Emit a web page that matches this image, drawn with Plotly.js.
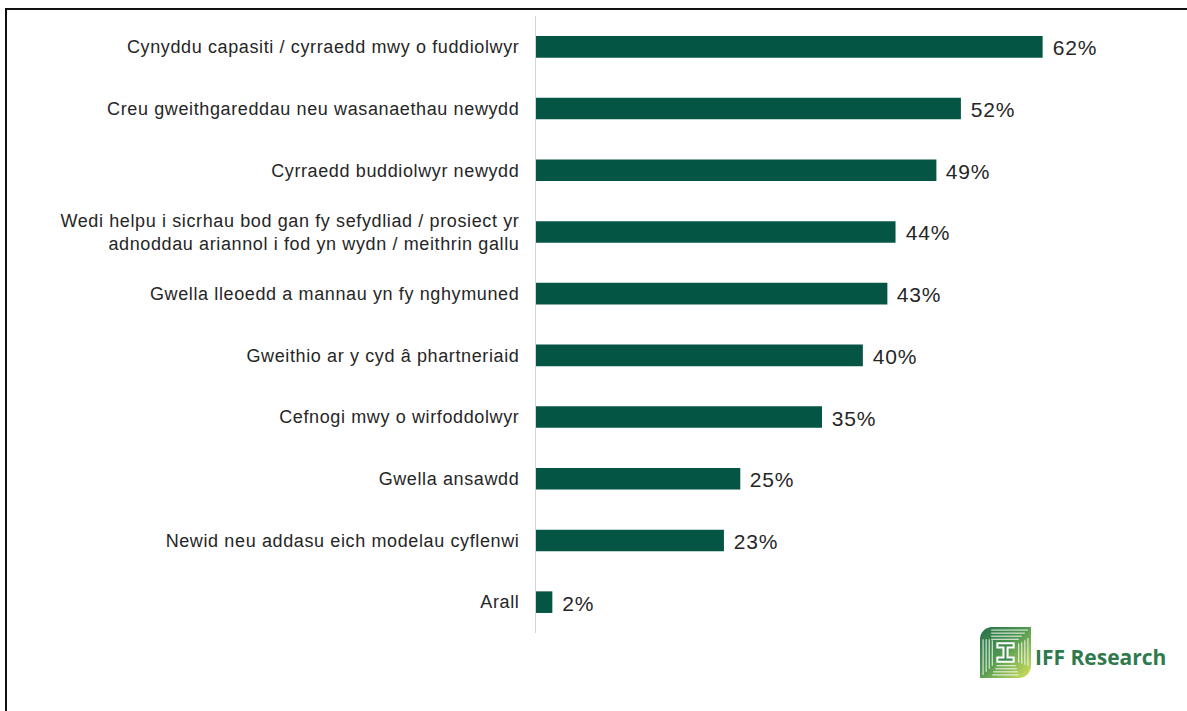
<!DOCTYPE html>
<html>
<head>
<meta charset="utf-8">
<script src="https://cdn.plot.ly/plotly-3.0.1.min.js"></script>
<style>
  html, body { margin: 0; padding: 0; background: #ffffff; overflow: hidden; }
  #wrap { position: relative; width: 1187px; height: 711px; }
  #chart { position: absolute; left: 0; top: 0; width: 1187px; height: 711px; }
  #chart .ytick text { letter-spacing: 0.62px; }
  #chart .annotation-text.val { letter-spacing: 0.8px; }
  #frame { position: absolute; left: 5px; top: 8px; width: 1300px; height: 800px;
           border-top: 2px solid #111; border-left: 2px solid #111; pointer-events: none; }
  #logo { position: absolute; left: 979px; top: 626px; width: 53px; height: 53px; }
</style>
</head>
<body>
<div id="wrap">
  <div id="chart"></div>
  <div id="frame"></div>
  <svg id="logo" viewBox="0 0 52 52" xmlns="http://www.w3.org/2000/svg">
    <defs>
      <linearGradient id="g" x1="0" y1="0" x2="1" y2="1">
        <stop offset="0" stop-color="#24704a"/>
        <stop offset="0.45" stop-color="#4f9650"/>
        <stop offset="1" stop-color="#d6e45e"/>
      </linearGradient>
    </defs>
    <path d="M12 1 H51 V39 A12 12 0 0 1 39 51 H1 V13 A12 12 0 0 1 12 1 Z" fill="url(#g)"/>
    <g fill="none" stroke="#ffffff" stroke-width="0.9">
      <path d="M12 4 H48"/><path d="M12 7 H45"/><path d="M12 10 H42"/><path d="M12 13 H39"/>
      <path d="M4 13 V48"/><path d="M7 13 V45"/><path d="M10 13 V42"/><path d="M13 14 V39"/>
      <path d="M48 12 V39"/><path d="M45 14 V38"/><path d="M42 16 V37"/><path d="M39 17 V36"/>
      <path d="M13 48 H39"/><path d="M14 45 H38"/><path d="M16 42 H37"/><path d="M17 39 H36"/>
    </g>
    <path d="M17 16 H35 V22 H29 V30 H35 V36 H17 V30 H23 V22 H17 Z" fill="#ffffff"/>
    <path d="M19 18 H33 V20 H27 V32 H33 V34 H19 V32 H25 V20 H19 Z" fill="#3f8a4e"/>
  </svg>
</div>
<script>
const categories = [
  "Cynyddu capasiti / cyrraedd mwy o fuddiolwyr",
  "Creu gweithgareddau neu wasanaethau newydd",
  "Cyrraedd buddiolwyr newydd",
  "Wedi helpu i sicrhau bod gan fy sefydliad / prosiect yr<br>adnoddau ariannol i fod yn wydn / meithrin gallu",
  "Gwella lleoedd a mannau yn fy nghymuned",
  "Gweithio ar y cyd â phartneriaid",
  "Cefnogi mwy o wirfoddolwyr",
  "Gwella ansawdd",
  "Newid neu addasu eich modelau cyflenwi",
  "Arall"
];
const values = [62, 52, 49, 44, 43, 40, 35, 25, 23, 2];
const valueLabels = values.map(v => v + "%");

const barColor = "#055545";
const textColor = "#262626";

const trace = {
  type: "bar",
  orientation: "h",
  x: values,
  y: categories,
  marker: { color: barColor },
  hoverinfo: "skip"
};

const annotations = values.map((v, i) => ({
  x: v, y: categories[i], xref: "x", yref: "y",
  text: valueLabels[i], showarrow: false,
  xanchor: "left", yanchor: "middle", xshift: 9, yshift: -1,
  font: { family: "Liberation Sans, Arial, sans-serif", size: 21, color: textColor }
}));

annotations.push({
  xref: "paper", yref: "paper", x: (1033 - 536) / 572, y: (633 - 657) / 617,
  xanchor: "left", yanchor: "middle", showarrow: false,
  text: "<b>IFF Research</b>",
  font: { family: "Open Sans, sans-serif", size: 21, color: "#2e7a4c" }
});

const layout = {
  width: 1187, height: 711,
  margin: { l: 536, r: 79, t: 16, b: 78, pad: 0 },
  paper_bgcolor: "#ffffff", plot_bgcolor: "#ffffff",
  showlegend: false,
  bargap: 0.65,
  font: { family: "Liberation Sans, Arial, sans-serif", size: 18, color: textColor },
  xaxis: { range: [0, 70], visible: false, fixedrange: true },
  yaxis: {
    type: "category", categoryorder: "array", categoryarray: categories,
    autorange: "reversed",
    showline: true, linecolor: "#d4d4d4", linewidth: 1,
    showgrid: false, zeroline: false,
    ticks: "outside", ticklen: 12, tickcolor: "rgba(0,0,0,0)",
    tickfont: { family: "Liberation Sans, Arial, sans-serif", size: 18, color: textColor },
    fixedrange: true
  },
  annotations: annotations
};

Plotly.newPlot("chart", [trace], layout, { displayModeBar: false, staticPlot: true }).then(gd => {
  const texts = gd.querySelectorAll(".annotation-text");
  for (let i = 0; i < values.length && i < texts.length; i++) texts[i].classList.add("val");
});
</script>
</body>
</html>
